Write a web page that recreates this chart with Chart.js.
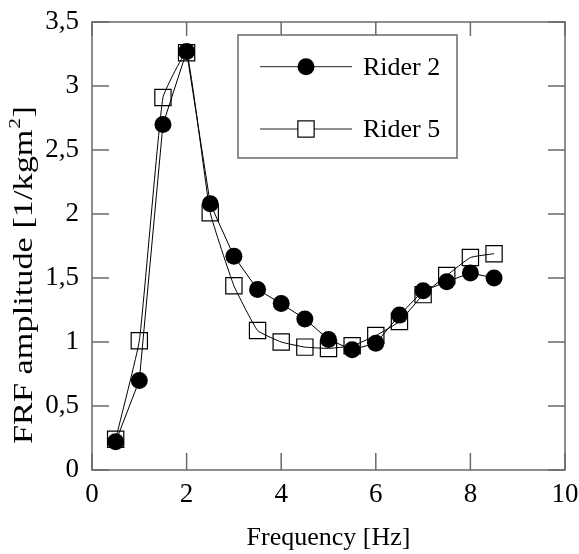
<!DOCTYPE html>
<html>
<head>
<meta charset="utf-8">
<script src="https://cdn.jsdelivr.net/npm/chart.js@4/dist/chart.umd.min.js"></script>
<style>
html,body{margin:0;padding:0;background:#fff;}
canvas{display:block;}
</style>
</head>
<body>
<canvas id="c" width="579" height="554"></canvas>
<script>
const frequency = [0.5, 1, 1.5, 2, 2.5, 3, 3.5, 4, 4.5, 5, 5.5, 6, 6.5, 7, 7.5, 8, 8.5];
const rider2 = [0.22, 0.70, 2.70, 3.27, 2.08, 1.67, 1.41, 1.30, 1.18, 1.02, 0.94, 0.99, 1.21, 1.40, 1.47, 1.54, 1.50];
const rider5 = [0.24, 1.01, 2.91, 3.26, 2.01, 1.44, 1.09, 1.00, 0.96, 0.95, 0.97, 1.05, 1.16, 1.37, 1.52, 1.66, 1.69];
const seriesNames = ["Rider 2", "Rider 5"];
const xTicks = [0, 2, 4, 6, 8, 10];
const yTicks = [0, 0.5, 1, 1.5, 2, 2.5, 3, 3.5];
const xTitle = "Frequency [Hz]";
const yTitleMain = "FRF amplitude [1/kgm";
const yTitleSup = "2";
const yTitleEnd = "]";

const FONT = "'Liberation Serif', 'Times New Roman', serif";
const FRAME = "#6a6a6a";

const pts = (ys) => frequency.map((x, i) => ({x: x, y: ys[i]}));

const framePlugin = {
  id: 'frame',
  beforeDatasetsDraw(chart) {
    const {ctx, chartArea: a, scales} = chart;
    const L = 17;
    ctx.save();
    ctx.strokeStyle = FRAME;
    ctx.lineWidth = 1.5;
    ctx.beginPath();
    xTicks.forEach(v => {
      const px = scales.x.getPixelForValue(v);
      ctx.moveTo(px, a.bottom); ctx.lineTo(px, a.bottom - L);
      ctx.moveTo(px, a.top); ctx.lineTo(px, a.top + L - 3);
    });
    yTicks.forEach(v => {
      const py = scales.y.getPixelForValue(v);
      ctx.moveTo(a.left, py); ctx.lineTo(a.left + L, py);
      ctx.moveTo(a.right, py); ctx.lineTo(a.right - L, py);
    });
    ctx.stroke();
    ctx.strokeRect(a.left, a.top, a.right - a.left, a.bottom - a.top);
    ctx.restore();

    // rotated y-axis title with superscript
    ctx.save();
    const cx = 25, cy = 275, target = 338;
    ctx.translate(cx, cy);
    ctx.rotate(-Math.PI / 2);
    ctx.fillStyle = '#000';
    ctx.textBaseline = 'middle';
    ctx.textAlign = 'left';
    const big = "27px " + FONT, small = "17px " + FONT;
    ctx.font = big;
    const w1 = ctx.measureText(yTitleMain).width;
    const w3 = ctx.measureText(yTitleEnd).width;
    ctx.font = small;
    const w2 = ctx.measureText(yTitleSup).width;
    const total = w1 + w2 + w3 + 1;
    const sx = target / total;
    ctx.scale(sx, 1);
    let x = -total / 2;
    ctx.font = big;
    ctx.fillText(yTitleMain, x, 0);
    x += w1 + 0.5;
    ctx.font = small;
    ctx.fillText(yTitleSup, x, -9);
    x += w2 + 0.5;
    ctx.font = big;
    ctx.fillText(yTitleEnd, x, 0);
    ctx.restore();
  },
  afterDatasetsDraw(chart) {
    const {ctx} = chart;
    const box = {l: 238, t: 35, r: 457, b: 158};
    ctx.save();
    ctx.fillStyle = '#fff';
    ctx.fillRect(box.l, box.t, box.r - box.l, box.b - box.t);
    ctx.strokeStyle = FRAME;
    ctx.lineWidth = 1.5;
    ctx.strokeRect(box.l, box.t, box.r - box.l, box.b - box.t);
    const rows = [66.7, 129];
    chart.data.datasets.forEach((ds, i) => {
      const y = rows[i];
      ctx.strokeStyle = '#222';
      ctx.lineWidth = 1;
      ctx.beginPath();
      ctx.moveTo(260, y); ctx.lineTo(352, y);
      ctx.stroke();
      ctx.strokeStyle = ds.pointBorderColor;
      ctx.fillStyle = ds.pointBackgroundColor;
      ctx.beginPath();
      if (ds.pointStyle === 'circle') {
        ctx.arc(306, y, ds.pointRadius, 0, Math.PI * 2);
        ctx.fill();
      } else {
        const s = ds.pointRadius * Math.SQRT1_2;
        ctx.fillStyle = '#fff';
        ctx.fillRect(306 - s, y - s, 2 * s, 2 * s);
        ctx.lineWidth = ds.pointBorderWidth;
        ctx.strokeRect(306 - s, y - s, 2 * s, 2 * s);
      }
      ctx.fillStyle = '#000';
      ctx.font = "26px " + FONT;
      ctx.textBaseline = 'middle';
      ctx.textAlign = 'left';
      ctx.fillText(ds.label, 363, y + 1);
    });
    ctx.restore();
  }
};

new Chart(document.getElementById('c'), {
  type: 'line',
  data: {
    datasets: [
      {
        label: seriesNames[0],
        data: pts(rider2),
        borderColor: '#000',
        borderWidth: 1,
        tension: 0,
        pointStyle: 'circle',
        pointRadius: 8.5,
        pointBackgroundColor: '#000',
        pointBorderColor: '#000',
        pointBorderWidth: 0
      },
      {
        label: seriesNames[1],
        data: pts(rider5),
        borderColor: '#000',
        borderWidth: 1,
        tension: 0.12,
        pointStyle: 'rect',
        pointRadius: 11.5,
        pointBackgroundColor: 'rgba(0,0,0,0)',
        pointBorderColor: '#000',
        pointBorderWidth: 1.2
      }
    ]
  },
  options: {
    responsive: false,
    animation: false,
    devicePixelRatio: 1,
    layout: {padding: {left: 0, right: 14, top: 22, bottom: 0}},
    plugins: {legend: {display: false}, tooltip: {enabled: false}},
    scales: {
      x: {
        type: 'linear',
        min: 0, max: 10,
        afterBuildTicks: (s) => { s.ticks = xTicks.map(v => ({value: v})); },
        afterFit: (s) => { s.height = 84; s.paddingLeft = 0; s.paddingRight = 0; },
        grid: {display: false, drawTicks: false},
        border: {display: false},
        ticks: {
          color: '#000',
          padding: 9,
          maxRotation: 0,
          font: {family: FONT, size: 27},
          callback: (v) => String(v).replace('.', ',')
        },
        title: {display: true, text: xTitle, color: '#000', font: {family: FONT, size: 26}, padding: {top: 0, bottom: 0}}
      },
      y: {
        min: 0, max: 3.5,
        afterBuildTicks: (s) => { s.ticks = yTicks.map(v => ({value: v})); },
        afterFit: (s) => { s.width = 92; s.paddingTop = 0; s.paddingBottom = 0; },
        grid: {display: false, drawTicks: false},
        border: {display: false},
        ticks: {
          color: '#000',
          padding: 13,
          font: {family: FONT, size: 27},
          callback: (v) => String(v).replace('.', ',')
        },
        title: {display: false}
      }
    }
  },
  plugins: [framePlugin]
});
</script>
</body>
</html>
